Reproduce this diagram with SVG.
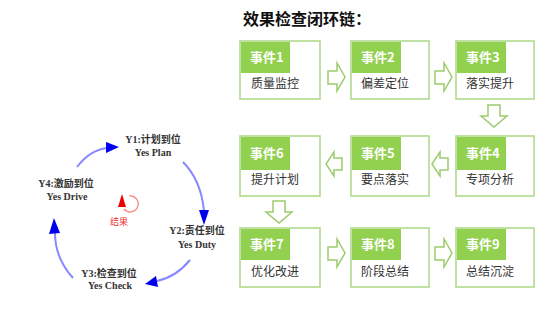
<svg xmlns="http://www.w3.org/2000/svg" width="560" height="330" viewBox="0 0 560 330">
<style>
.box{fill:#fff;stroke:#acd887;stroke-width:1.5}
.hdr{fill:#92d050}
.ht{font-family:"Noto Sans CJK SC","Noto Sans",sans-serif;font-size:13px;font-weight:bold;fill:#fff}
.bt{font-family:"Noto Sans CJK SC","Noto Sans",sans-serif;font-size:12px;fill:#333}
.blk{fill:#fff;stroke:#9ccb6c;stroke-width:1.5;stroke-linejoin:miter}
.arc{fill:none;stroke:#8888ff;stroke-width:2}
.ah{fill:#0000ee}
.yl{font-family:"Liberation Serif","Noto Sans CJK SC",serif;font-size:10px;font-weight:bold;fill:#333;text-anchor:middle}
.title{font-family:"Noto Sans CJK SC",sans-serif;font-size:16px;font-weight:bold;fill:#111}
</style>
<rect width="560" height="330" fill="#fff"/>
<text class="title" x="243" y="25">效果检查闭环链：</text>

<g id="e1"><rect class="box" x="240" y="41" width="80" height="58"/><rect class="hdr" x="241" y="42" width="49" height="31"/><text class="ht" x="250" y="62">事件1</text><text class="bt" x="251" y="88">质量监控</text></g>
<g id="e2"><rect class="box" x="351" y="41" width="78" height="58"/><rect class="hdr" x="352" y="42" width="49" height="31"/><text class="ht" x="361" y="62">事件2</text><text class="bt" x="361" y="88">偏差定位</text></g>
<g id="e3"><rect class="box" x="456" y="41" width="78" height="58"/><rect class="hdr" x="457" y="42" width="49" height="31"/><text class="ht" x="466" y="62">事件3</text><text class="bt" x="466" y="88">落实提升</text></g>
<g id="e4"><rect class="box" x="456" y="136" width="78" height="60"/><rect class="hdr" x="457" y="137" width="49" height="33"/><text class="ht" x="466" y="158">事件4</text><text class="bt" x="466" y="184">专项分析</text></g>
<g id="e5"><rect class="box" x="351" y="136" width="78" height="60"/><rect class="hdr" x="352" y="137" width="49" height="33"/><text class="ht" x="361" y="158">事件5</text><text class="bt" x="361" y="184">要点落实</text></g>
<g id="e6"><rect class="box" x="240" y="136" width="80" height="60"/><rect class="hdr" x="241" y="137" width="49" height="33"/><text class="ht" x="250" y="158">事件6</text><text class="bt" x="251" y="184">提升计划</text></g>
<g id="e7"><rect class="box" x="240" y="228" width="80" height="59"/><rect class="hdr" x="241" y="229" width="49" height="31"/><text class="ht" x="250" y="249">事件7</text><text class="bt" x="251" y="276">优化改进</text></g>
<g id="e8"><rect class="box" x="351" y="228" width="78" height="59"/><rect class="hdr" x="352" y="229" width="49" height="31"/><text class="ht" x="361" y="249">事件8</text><text class="bt" x="361" y="276">阶段总结</text></g>
<g id="e9"><rect class="box" x="456" y="228" width="78" height="59"/><rect class="hdr" x="457" y="229" width="49" height="31"/><text class="ht" x="466" y="249">事件9</text><text class="bt" x="466" y="276">总结沉淀</text></g>

<g id="connectors">
<polygon class="blk" points="328,71 337,71 337,63 345,77 337,91 337,84 328,84"/>
<polygon class="blk" points="435,71 444,71 444,63 452,77 444,91 444,84 435,84"/>
<polygon class="blk" points="488,105 500,105 500,116 507,116 494,127 481,116 488,116"/>
<polygon class="blk" points="448,158 440,158 440,152 432,164 440,176 440,170 448,170"/>
<polygon class="blk" points="342,158 334,158 334,152 326,164 334,176 334,170 342,170"/>
<polygon class="blk" points="273,201 285,201 285,212 292,212 279,223 266,212 273,212"/>
<polygon class="blk" points="328,247 337,247 337,239 345,253 337,267 337,260 328,260"/>
<polygon class="blk" points="435,247 444,247 444,239 452,253 444,267 444,260 435,260"/>
</g>

<g id="cycle">
<path class="arc" d="M77,167 Q90,150 107,148"/>
<polygon class="ah" points="119,147 106,142 106,153"/>
<path class="arc" d="M183,162 Q201,180 204,211"/>
<polygon class="ah" points="204,225 199,210 209,210"/>
<path class="arc" d="M190,260 Q176,277 157,281"/>
<polygon class="ah" points="145,284 156,276 158,287"/>
<path class="arc" d="M73,278 Q55,258 55,233"/>
<polygon class="ah" points="54,218 49,234 60,233"/>
</g>

<g id="y1"><text class="yl" x="153" y="143">Y1:计划到位</text><text class="yl" x="153" y="156">Yes Plan</text></g>
<g id="y2"><text class="yl" x="197" y="234">Y2:责任到位</text><text class="yl" x="197" y="248">Yes Duty</text></g>
<g id="y3"><text class="yl" x="109" y="277">Y3:检查到位</text><text class="yl" x="110" y="289">Yes Check</text></g>
<g id="y4"><text class="yl" x="66" y="187">Y4:激励到位</text><text class="yl" x="67" y="200">Yes Drive</text></g>

<g id="result">
<path d="M129,196 A8,8 0 1 1 124,209" fill="none" stroke="#ff8080" stroke-width="1.2"/>
<polygon points="122,194 118,207 126,207" fill="#ee0000"/>
<text x="119" y="225" text-anchor="middle" font-family="Noto Sans CJK SC,sans-serif" font-size="9px" fill="#ee3333">结果</text>
</g>
</svg>
